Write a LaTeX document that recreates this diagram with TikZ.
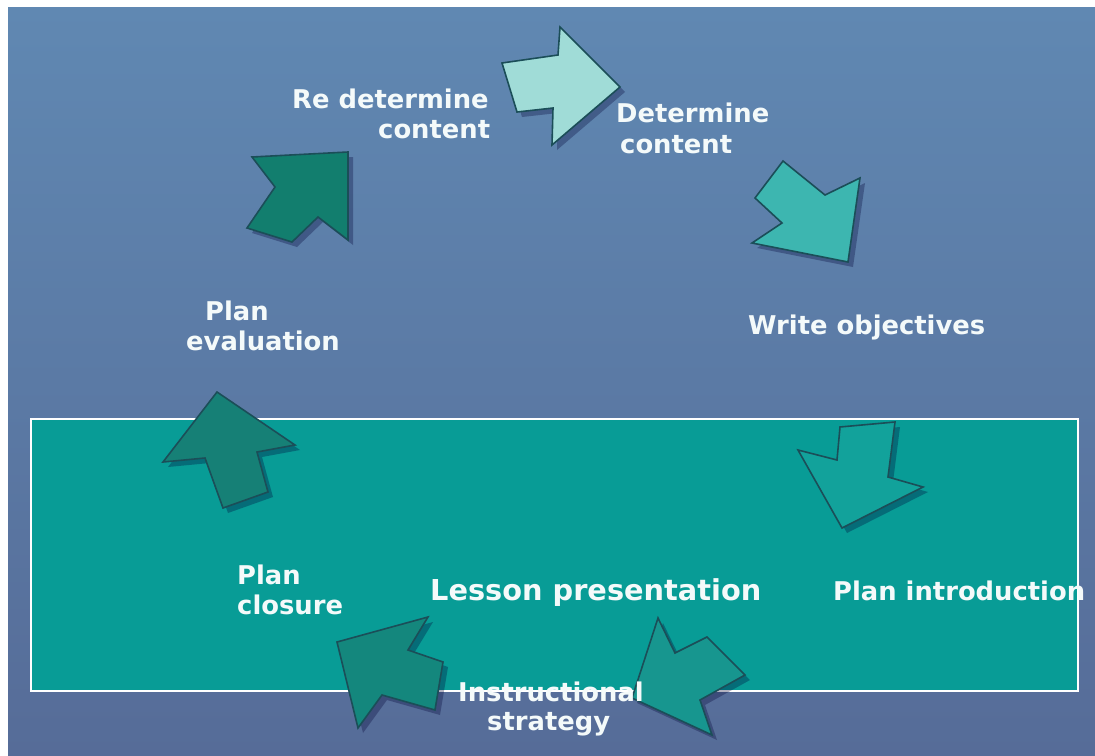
\documentclass[tikz,border=0pt]{standalone}
\usepackage{fontspec}
\setmainfont{DejaVu Sans}
\usetikzlibrary{calc}
\definecolor{bgtop}{HTML}{6088B2}
\definecolor{bgbot}{HTML}{566C98}
\definecolor{boxteal}{HTML}{089C96}
\definecolor{edge}{HTML}{1B4E58}
\definecolor{arA}{HTML}{A0DCD7}
\definecolor{arB}{HTML}{3DB6B0}
\definecolor{arC}{HTML}{12A29B}
\definecolor{arD}{HTML}{17968F}
\definecolor{arE}{HTML}{14877D}
\definecolor{arF}{HTML}{168076}
\definecolor{arG}{HTML}{127E6E}
\definecolor{txt}{HTML}{F4FAFA}
\tikzset{
  arrowshape/.style={draw=edge, line width=1.6pt, line join=miter},
  shadowshape/.style={fill=black!80!blue, opacity=0.3, draw=none},
  lbl/.style={text=txt, font=\fontsize{25.8}{30}\selectfont\bfseries, anchor=base west, inner sep=0pt},
  biglbl/.style={text=txt, font=\fontsize{28.8}{34}\selectfont\bfseries, anchor=base west, inner sep=0pt}
}
\newcommand{\myarrow}[2]{%
  \fill[shadowshape, shift={(5,5)}] #2 -- cycle;
  \filldraw[arrowshape, fill=#1] #2 -- cycle;}
\begin{document}
\begin{tikzpicture}[x=1pt,y=-1pt]
\useasboundingbox (0,0) rectangle (1095,755);
\fill[white] (0,0) rectangle (1095,755);
\shade[top color=bgtop, bottom color=bgbot] (8,7) rectangle (1095,755);
% lesson box
\node[draw=white, line width=1.5pt, fill=boxteal, minimum width=1047pt, minimum height=272pt, inner sep=0pt, anchor=north west] (box) at (30,418) {};
% arrows
\myarrow{arA}{(502,63) -- (558,55) -- (560,27) -- (620,87) -- (552,145) -- (553,108) -- (517,112)}
\myarrow{arB}{(783,161) -- (825,195) -- (860,178) -- (848,262) -- (752,243) -- (782,223) -- (755,198)}
\myarrow{arC}{(840,427) -- (895,422) -- (888,477) -- (923,487) -- (842,528) -- (798,450) -- (837,460)}
\myarrow{arD}{(658,618) -- (675,653) -- (707,637) -- (745,675) -- (700,700) -- (712,735) -- (632,698)}
\myarrow{arE}{(337,642) -- (428,617) -- (408,650) -- (443,662) -- (435,710) -- (382,695) -- (358,728)}
\myarrow{arF}{(217,392) -- (295,445) -- (257,452) -- (268,492) -- (223,508) -- (205,458) -- (163,462)}
\myarrow{arG}{(252,157) -- (348,152) -- (348,240) -- (318,217) -- (292,242) -- (247,228) -- (275,187)}
% labels
\node[lbl] (re1) at (292,108) {Re determine};
\node[lbl] (re2) at (378,138) {content};
\node[lbl] (de1) at (616,122) {Determine};
\node[lbl] (de2) at (620,153) {content};
\node[lbl] (wo) at (748,334) {Write objectives};
\node[lbl] (pe1) at (205,320) {Plan};
\node[lbl] (pe2) at (186,350) {evaluation};
\node[lbl] (pi) at (833,600) {Plan introduction};
\node[biglbl] (lp) at (430,600) {Lesson presentation};
\node[lbl] (pc1) at (237,584) {Plan};
\node[lbl] (pc2) at (237,614) {closure};
\node[lbl] (is1) at (458,701) {Instructional};
\node[lbl] (is2) at (487,730) {strategy};
\end{tikzpicture}
\end{document}
